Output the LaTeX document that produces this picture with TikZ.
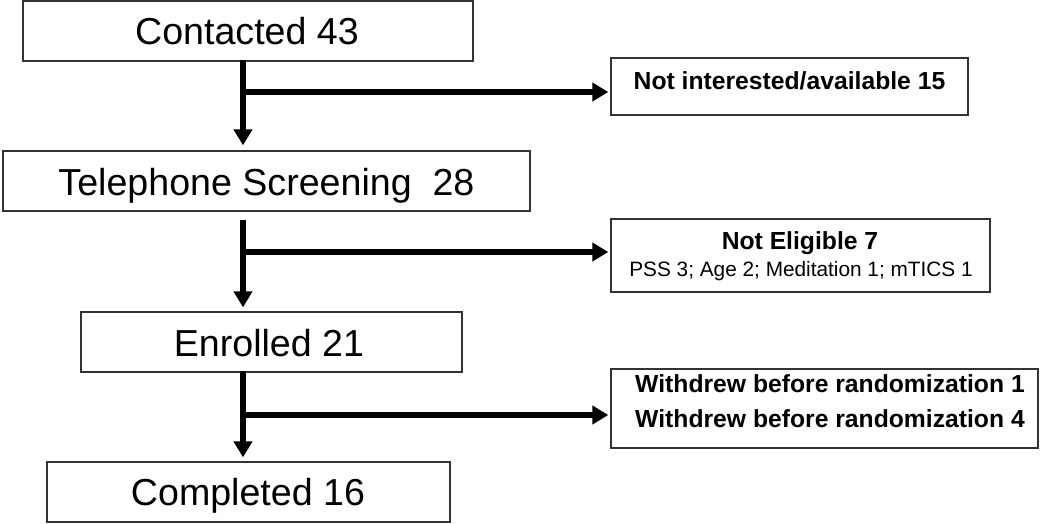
\documentclass[tikz,border=0pt]{standalone}
\usepackage{fontspec}
\setmainfont{Liberation Sans}
\usetikzlibrary{arrows.meta}
\tikzset{
  box/.style={draw=black!80, line width=1.3pt, fill=white, inner sep=0pt},
  big/.style={anchor=base, inner sep=0pt, font=\fontsize{37.6}{40}\selectfont},
  side/.style={anchor=base, inner sep=0pt, font=\fontsize{24.7}{28}\selectfont\bfseries},
  small/.style={anchor=base, inner sep=0pt, font=\fontsize{20.8}{24}\selectfont},
  arr/.style={line width=6pt, -{Triangle[width=18pt,length=16pt]}}
}
\begin{document}
\begin{tikzpicture}[x=1pt,y=-1pt]
\useasboundingbox (0,0) rectangle (1050,523);
% main boxes
\node[box, minimum width=450pt, minimum height=60pt] (c) at (248,31) {};
\node[box, minimum width=527pt, minimum height=60pt] (ts) at (266.5,181) {};
\node[box, minimum width=381pt, minimum height=60pt] (en) at (271.5,342) {};
\node[box, minimum width=403pt, minimum height=60pt] (co) at (248.5,492) {};
% side boxes
\node[box, minimum width=357pt, minimum height=57pt] (ni) at (789.5,86.5) {};
\node[box, minimum width=379pt, minimum height=73pt] (ne) at (800.5,255.5) {};
\node[box, minimum width=427pt, minimum height=79pt] (wd) at (824.5,408.5) {};
% texts
\node[big] (ctxt) at (247,44) {Contacted 43};
\node[big] (tstxt) at (266.5,195) {Telephone Screening~~28};
\node[big] (entxt) at (269,356) {Enrolled 21};
\node[big] (cotxt) at (248,505) {Completed 16};
\node[side] (nitxt) at (789.5,89) {Not interested/available 15};
\node[side] (netxt) at (800,249) {Not Eligible 7};
\node[small] (nesub) at (801,276) {PSS 3; Age 2; Meditation 1; mTICS 1};
\node[side] (wd1) at (830,392) {Withdrew before randomization 1};
\node[side] (wd2) at (830,427) {Withdrew before randomization 4};
% junctions on the trunk
\coordinate (j1) at (243,92);
\coordinate (j2) at (243,252);
\coordinate (j3) at (243,415);
% vertical arrows
\draw[arr, shorten >=5pt, shorten <=-2pt] (c.south -| j1) -- (ts.north -| j1);
\draw[arr, shorten >=4pt, shorten <=8pt] (ts.south -| j2) -- (en.north -| j2);
\draw[arr, shorten >=4pt, shorten <=-2pt] (en.south -| j3) -- (co.north -| j3);
% horizontal arrows
\draw[arr, shorten >=2pt] (j1) -- (j1 -| ni.west);
\draw[arr, shorten >=2pt] (j2) -- (j2 -| ne.west);
\draw[arr, shorten >=2pt] (j3) -- (j3 -| wd.west);
\end{tikzpicture}
\end{document}
